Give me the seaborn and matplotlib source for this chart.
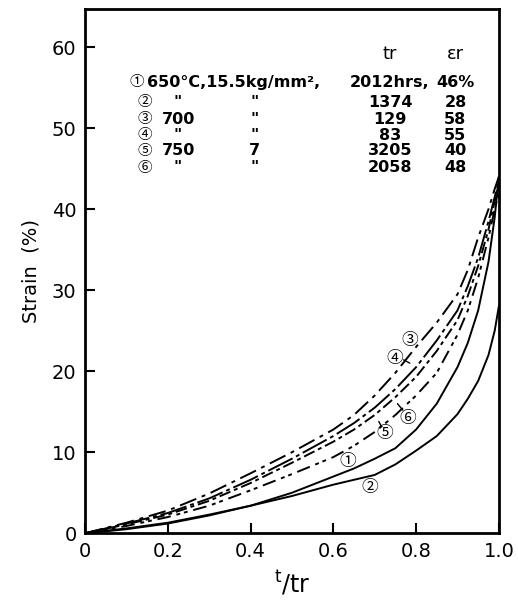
import matplotlib
matplotlib.use('Agg')
import matplotlib.pyplot as plt
import numpy as np
import pandas as pd
import seaborn as sns

# Creep curves: strain (%) against life fraction t/tr
t_frac = [0, 0.1, 0.2, 0.3, 0.4, 0.5, 0.6, 0.65, 0.7, 0.75, 0.8, 0.85, 0.9, 0.925, 0.95, 0.975, 0.99, 1.0]
strain_1 = [0, 0.5, 1.2, 2.2, 3.4, 5.0, 7.0, 8.0, 9.2, 10.5, 12.8, 16.0, 20.5, 23.5, 27.5, 33.5, 39.0, 44.0]
strain_2 = [0, 0.6, 1.3, 2.3, 3.4, 4.6, 6.0, 6.6, 7.2, 8.5, 10.2, 12.0, 14.7, 16.6, 18.8, 22.0, 25.0, 28.0]
strain_3 = [0, 1.3, 2.8, 4.9, 7.4, 10.0, 12.8, 14.6, 17.0, 19.8, 23.0, 26.0, 29.5, 32.5, 36.5, 40.0, 42.5, 44.0]
strain_4 = [0, 1.2, 2.5, 4.3, 6.6, 9.2, 12.0, 13.6, 15.5, 17.8, 20.5, 23.8, 27.5, 30.5, 34.0, 38.5, 41.5, 43.5]
strain_5 = [0, 0.9, 2.0, 3.4, 5.3, 7.3, 9.4, 10.8, 12.5, 14.6, 17.0, 19.8, 24.5, 27.5, 31.5, 36.5, 40.0, 42.0]
strain_6 = [0, 1.1, 2.3, 4.0, 6.2, 8.7, 11.3, 12.8, 14.6, 16.8, 19.3, 22.5, 26.3, 29.3, 33.0, 37.5, 41.0, 43.0]
curve_ids = ['1', '2', '3', '4', '5', '6']
circled = ['\u2460', '\u2461', '\u2462', '\u2463', '\u2464', '\u2465']

# test conditions table
temps = ['650\u00b0C,', '"', '700', '"', '750', '"']
stress = ['15.5kg/mm\u00b2,', '"', '"', '"', '7', '"']
t_rupture = ['2012hrs,', '1374', '129', '83', '3205', '2058']
e_rupture = ['46%', '28', '58', '55', '40', '48']

curves = [strain_1, strain_2, strain_3, strain_4, strain_5, strain_6]
df = pd.concat([pd.DataFrame({'t': t_frac, 'strain': s, 'curve': c})
                for c, s in zip(curve_ids, curves)])

sns.set_style('ticks')
plt.rcParams['font.family'] = ['DejaVu Sans', 'Noto Sans CJK JP']
plt.rcParams['text.color'] = 'black'
plt.rcParams['axes.labelcolor'] = 'black'
plt.rcParams['xtick.color'] = 'black'
plt.rcParams['ytick.color'] = 'black'
plt.rcParams['axes.edgecolor'] = 'black'

fig = plt.figure(figsize=(5.18, 6.06), dpi=100)
ax = fig.add_axes([0.164, 0.12, 0.799, 0.865])

dashes = {'1': '', '2': '', '3': (9, 3, 2, 3), '4': (14, 2, 2, 2),
          '5': (7, 3, 2, 2, 2, 3), '6': (6, 2, 2, 2)}
sns.lineplot(data=df, x='t', y='strain', style='curve', dashes=dashes,
             color='black', linewidth=1.4, sort=False, legend=False, ax=ax)

ax.set_xlim(0, 1.0)
ax.set_ylim(0, 64.7)
ax.set_xticks([0, 0.2, 0.4, 0.6, 0.8, 1.0])
ax.set_xticklabels(['0', '0.2', '0.4', '0.6', '0.8', '1.0'])
ax.set_yticks(range(0, 61, 10))
ax.tick_params(direction='in', length=7, width=1.5, labelsize=14, pad=6)
for sp in ax.spines.values():
    sp.set_linewidth(2.0)
ax.set_xlabel(r'$^{\mathrm{t}}/\mathrm{tr}$', fontsize=17, labelpad=6)
ax.set_ylabel('Strain  (%)', fontsize=14, labelpad=8)

cjk = ['Noto Sans CJK JP', 'DejaVu Sans']

# curve labels
label_pos = [(0.635, 8.8), (0.688, 5.6), (0.785, 23.8), (0.749, 21.6), (0.725, 12.3), (0.78, 14.2)]
for ch, (x, y) in zip(circled, label_pos):
    ax.text(x, y, ch, fontsize=12, ha='center', va='center', family=cjk)
ax.plot([0.77, 0.785], [21.4, 21.0], color='black', lw=1)
ax.plot([0.768, 0.755], [15.2, 16.0], color='black', lw=1)
ax.plot([0.715, 0.71], [13.3, 13.8], color='black', lw=1)

# conditions table
ax.text(0.737, 59.1, 'tr', fontsize=13, ha='center', va='center')
ax.text(0.895, 59.1, '\u03b5r', fontsize=13, ha='center', va='center')
row_y = [55.7, 53.2, 51.1, 49.1, 47.2, 45.1]
ax.text(0.125, row_y[0], circled[0], fontsize=10.5, ha='center', va='center', family=cjk)
ax.text(0.15, row_y[0], f'{temps[0]}{stress[0]}', fontsize=11.5,
        ha='left', va='center', fontweight='bold')
ax.text(0.737, row_y[0], t_rupture[0], fontsize=11.5, ha='center', va='center', fontweight='bold')
ax.text(0.895, row_y[0], e_rupture[0], fontsize=11.5, ha='center', va='center', fontweight='bold')
for i in range(1, 6):
    y = row_y[i]
    ax.text(0.145, y, circled[i], fontsize=10.5, ha='center', va='center', family=cjk)
    ax.text(0.185 if temps[i] != '"' else 0.215, y, temps[i], fontsize=11.5,
            ha='left', va='center', fontweight='bold')
    ax.text(0.41, y, stress[i], fontsize=11.5, ha='center', va='center', fontweight='bold')
    ax.text(0.737, y, t_rupture[i], fontsize=11.5, ha='center', va='center', fontweight='bold')
    ax.text(0.895, y, e_rupture[i], fontsize=11.5, ha='center', va='center', fontweight='bold')

fig.savefig('out.png', dpi=100)
